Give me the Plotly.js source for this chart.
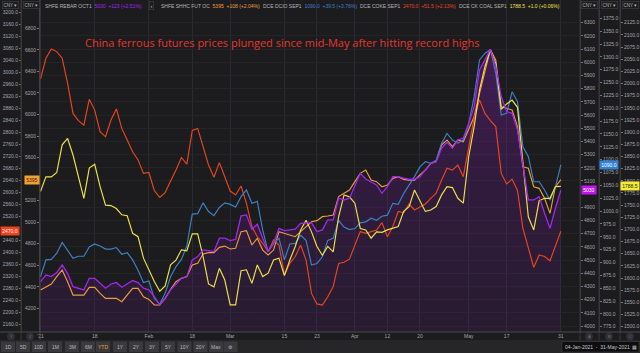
<!DOCTYPE html>
<html><head><meta charset="utf-8">
<script src="https://cdn.plot.ly/plotly-3.0.1.min.js"></script>
<style>html,body{margin:0;padding:0;background:#1c1c1f;}#chart{width:640px;height:353px;}</style>
</head><body><div id="chart"></div>
<script>
const dates = [
 '2021-01-04','2021-01-05','2021-01-06','2021-01-07','2021-01-08','2021-01-11','2021-01-12','2021-01-13','2021-01-14','2021-01-15',
 '2021-01-18','2021-01-19','2021-01-20','2021-01-21','2021-01-22','2021-01-25','2021-01-26','2021-01-27','2021-01-28','2021-01-29',
 '2021-02-01','2021-02-02','2021-02-03','2021-02-04','2021-02-05','2021-02-08','2021-02-09','2021-02-10','2021-02-18','2021-02-19',
 '2021-02-22','2021-02-23','2021-02-24','2021-02-25','2021-02-26','2021-03-01','2021-03-02','2021-03-03','2021-03-04','2021-03-05',
 '2021-03-08','2021-03-09','2021-03-10','2021-03-11','2021-03-12','2021-03-15','2021-03-16','2021-03-17','2021-03-18','2021-03-19',
 '2021-03-22','2021-03-23','2021-03-24','2021-03-25','2021-03-26','2021-03-29','2021-03-30','2021-03-31','2021-04-01','2021-04-02',
 '2021-04-06','2021-04-07','2021-04-08','2021-04-09','2021-04-12','2021-04-13','2021-04-14','2021-04-15','2021-04-16','2021-04-19',
 '2021-04-20','2021-04-21','2021-04-22','2021-04-23','2021-04-26','2021-04-27','2021-04-28','2021-04-29','2021-04-30','2021-05-06',
 '2021-05-07','2021-05-10','2021-05-11','2021-05-12','2021-05-13','2021-05-14','2021-05-17','2021-05-18','2021-05-19','2021-05-20',
 '2021-05-21','2021-05-24','2021-05-25','2021-05-26','2021-05-27','2021-05-28','2021-05-31'];

// SHFE Rebar Oct1 (CNY)
const rebar = [4337,4388,4375,4405,4463,4400,4299,4287,4274,4362,4362,4324,4287,4319,4330,4294,4319,4345,4330,4287,
 4274,4223,4160,4211,4274,4319,4362,4375,4501,4527,4577,4572,4565,4666,4666,4648,4658,4835,4843,4734,
 4772,4666,4565,4628,4741,4724,4729,4734,4779,4779,4784,4716,4729,4805,4805,4969,4956,4969,5057,5158,
 5115,5095,5070,5007,5057,5133,5133,5121,5113,5113,5133,5184,5234,5247,5348,5393,5348,5411,5424,5537,
 5664,5942,6018,6098,5967,5740,5626,5613,5487,5209,4956,4956,4981,4855,4741,4893,5030];
// SHFE hot-rolled coil (CNY)
const shhc = [4370,4401,4426,4494,4556,4447,4323,4323,4323,4395,4395,4339,4293,4293,4293,4262,4323,4385,4385,4308,
 4283,4231,4231,4293,4376,4447,4478,4494,4602,4618,4704,4717,4717,4766,4778,4751,4757,4912,4921,4788,
 4850,4741,4695,4741,4912,4896,4881,4865,4912,4958,5004,5014,5051,5057,5066,5237,5268,5298,5376,5453,
 5484,5391,5376,5329,5345,5407,5422,5397,5391,5391,5438,5484,5546,5562,5716,5763,5701,5763,5747,5856,
 5979,6196,6413,6604,6505,6072,6057,6041,5887,5515,5500,5329,5314,5221,5082,5329,5395];
// DCE iron ore Sep1 (CNY)
const dcio = [872,905,906,918,939,924,908,912,912,930,936,932,926,926,929,916,919,905,885,861,
 864,830,819,840,872,892,906,932,994,995,1016,999,991,1007,1016,1013,1008,1028,1041,1015,
 1019,963,921,937,947,905,936,937,953,943,895,898,911,943,947,982,969,964,966,977,
 979,986,982,990,992,1015,1013,1034,1050,1067,1086,1096,1093,1099,1132,1151,1138,1132,1138,1170,
 1222,1294,1307,1314,1268,1187,1190,1232,1213,1125,1106,1057,1057,1041,1021,1047,1090.0];
// DCE coke Sep1 (CNY)
const coke = [2977,3047,3078,3069,3047,2963,2863,2839,2824,2910,2874,2802,2785,2841,2878,2813,2774,2735,2708,2663,
 2666,2606,2583,2599,2638,2674,2716,2694,2806,2813,2752,2691,2650,2699,2652,2604,2591,2621,2563,2486,
 2452,2430,2402,2441,2424,2324,2363,2386,2424,2374,2263,2228,2224,2252,2286,2363,2367,2377,2424,2469,
 2463,2469,2474,2499,2452,2486,2536,2532,2561,2541,2552,2561,2580,2597,2641,2680,2674,2691,2652,2752,
 2847,2908,2863,2839,2819,2663,2628,2644,2606,2480,2419,2350,2391,2386,2372,2419,2470.0];
// DCE coking coal Sep1 (CNY)
const coal = [1778,1808,1808,1817,1874,1887,1853,1808,1764,1826,1834,1788,1750,1749,1743,1730,1728,1692,1685,1641,
 1617,1593,1573,1584,1627,1637,1658,1656,1691,1691,1644,1588,1582,1620,1596,1545,1545,1615,1617,1589,
 1627,1603,1610,1637,1641,1605,1637,1665,1699,1719,1695,1665,1647,1665,1654,1726,1771,1767,1754,1702,
 1699,1682,1695,1694,1699,1702,1706,1737,1747,1781,1760,1737,1740,1747,1771,1788,1786,1764,1754,1850,
 1911,1987,2035,2069,2041,1947,1958,1966,1951,1836,1726,1699,1759,1764,1764,1788,1788.5];

const legendNames = ['SHFE REBAR OCT1','SHFE SHHC FUT OC','DCE DCIO SEP1','DCE COKE SEP1','DCE CK COAL SEP1'];
const lastText = ['5030','5395','1090.0','2470.0','1788.5'];
const changeText = ['+123 (+2.51%)','+108 (+2.04%)','+39.5 (+3.76%)','+51.5 (+2.13%)','+1.0 (+0.06%)'];
const tickDates = ['2021-01-04','2021-01-18','2021-02-01','2021-02-18','2021-03-01','2021-03-15','2021-03-23','2021-04-01','2021-04-12','2021-04-20','2021-05-06','2021-05-17','2021-05-31'];
const tickText = ["'21",'18','Feb','18','Mar','15','23','Apr','12','20','May','17','31'];
const titleText = 'China ferrous futures prices plunged since mid-May after hitting record highs';

const W=640,H=353;
const px=x=>x/W, py=y=>1-y/H;
const C = {rebar:'#a326ee', shhc:'#ee9c3e', dcio:'#3f80c4', coke:'#ea4520', coal:'#efe349'};
const BG='#1c1c1f', SEP='#38383c', TXT='#a4a4a8';
const FONT='Liberation Sans, Arial, sans-serif';
const tf = {family:FONT, size:5, color:TXT};

const R = {rebar:[3955,6472], shhc:[3980.1,7062.8], coke:[2134.3,3241], dcio:[764.7,1410.6], coal:[1489.1,2171.7]};
const plotH = 332;
function ticks(a,b,s,rg,tag){
  const r=[], k=plotH/(rg[1]-rg[0]);
  for(let v=a;v<=b+1e-9;v+=s){ if(Math.abs(v-tag)*k>4.2) r.push(v); }
  return r;
}

const traces = [
 {x:dates,y:rebar,type:'scatter',mode:'lines',line:{width:0},fill:'tozeroy',
  fillgradient:{type:'vertical',start:3955,stop:6200,colorscale:[[0,'rgba(105,25,140,0.16)'],[0.5,'rgba(110,25,150,0.25)'],[1,'rgba(125,30,165,0.42)']]},
  yaxis:'y',hoverinfo:'skip'},
 {x:dates,y:shhc,type:'scatter',mode:'lines',line:{color:C.shhc,width:1.15},yaxis:'y2',hoverinfo:'skip'},
 {x:dates,y:coke,type:'scatter',mode:'lines',line:{color:C.coke,width:1.15},yaxis:'y3',hoverinfo:'skip'},
 {x:dates,y:dcio,type:'scatter',mode:'lines',line:{color:C.dcio,width:1.15},yaxis:'y4',hoverinfo:'skip'},
 {x:dates,y:coal,type:'scatter',mode:'lines',line:{color:C.coal,width:1.15},yaxis:'y5',hoverinfo:'skip'},
 {x:dates,y:rebar,type:'scatter',mode:'lines',line:{color:C.rebar,width:1.3},yaxis:'y6',hoverinfo:'skip'}
];

const ydom=[21/H,1];
const baseY = {domain:ydom, showgrid:false, zeroline:false, ticks:'outside', ticklen:2, tickcolor:'#77777b', tickfont:tf, showline:true, linecolor:SEP, tickmode:'array', fixedrange:true};

const layout = {
 width:W,height:H,margin:{l:0,r:0,t:0,b:0},paper_bgcolor:BG,plot_bgcolor:BG,showlegend:false,
 xaxis:{domain:[40/W,579/W],type:'category',range:[-0.09,99.35],tickmode:'array',tickvals:tickDates,ticktext:tickText,
   showgrid:true,gridcolor:'#2b2b2f',gridwidth:1,ticks:'',tickfont:tf,showline:false,zeroline:false,anchor:'y',fixedrange:true},
 yaxis:Object.assign({},baseY,{range:R.rebar,tickvals:ticks(4000,6300,100,R.rebar,5030),tickformat:'d',side:'right',anchor:'free',position:580/W,
   showgrid:true,gridcolor:'#242427',gridwidth:1}),
 yaxis2:Object.assign({},baseY,{range:R.shhc,tickvals:ticks(4200,6800,200,R.shhc,5395),tickformat:'d',side:'left',anchor:'x',overlaying:'y'}),
 yaxis3:Object.assign({},baseY,{range:R.coke,tickvals:ticks(2160,3200,40,R.coke,2470),tickformat:'.1f',side:'left',anchor:'free',position:21/W,overlaying:'y'}),
 yaxis4:Object.assign({},baseY,{range:R.dcio,tickvals:ticks(775,1375,25,R.dcio,1090),tickformat:'.1f',side:'right',anchor:'free',position:599/W,overlaying:'y'}),
 yaxis5:Object.assign({},baseY,{range:R.coal,tickvals:ticks(1500,2125,25,R.coal,1788.5),tickformat:'.1f',side:'right',anchor:'free',position:620/W,overlaying:'y'}),
 yaxis6:{domain:ydom,range:R.rebar,overlaying:'y',anchor:'x',visible:false,fixedrange:true},
 shapes:[], annotations:[]
};

const S=layout.shapes, A=layout.annotations;
[21,580,599,620].forEach(x=>S.push({type:'line',xref:'paper',yref:'paper',x0:px(x),x1:px(x),y0:py(0),y1:py(340),line:{color:SEP,width:1}}));
S.push({type:'line',xref:'paper',yref:'paper',x0:px(40),x1:px(40),y0:py(0),y1:py(340),line:{color:'#4a4a4e',width:1}});
S.push({type:'line',xref:'paper',yref:'paper',x0:0,x1:1,y0:py(332),y1:py(332),line:{color:'#4a4a4e',width:1}});
S.push({type:'rect',xref:'paper',yref:'paper',x0:0,x1:1,y0:0,y1:py(340),fillcolor:'#262629',line:{width:0}});
const btns=['1D','5D','10D','1M','3M','6M','YTD','1Y','2Y','3Y','5Y','10Y','20Y','Max','⚙'];
const bx=[8,23,39,55,72,88,103,120,136,152,168,184.5,200.5,216,230.5];
btns.forEach((b,i)=>{
 S.push({type:'rect',xref:'paper',yref:'paper',x0:px(bx[i]-7),x1:px(bx[i]+7),y0:py(352),y1:py(341.5),fillcolor:'#3a3a3e',line:{width:0}});
 A.push({xref:'paper',yref:'paper',x:px(bx[i]),y:py(346.8),text:b,showarrow:false,xanchor:'center',yanchor:'middle',
   font:{family:FONT,size:5,color:b==='YTD'?'#e8a030':'#b8b8bc'}});
});
S.push({type:'rect',xref:'paper',yref:'paper',x0:px(562),x1:px(639),y0:py(352),y1:py(341.5),fillcolor:'#0e0e10',line:{color:'#4a4a4e',width:0.5}});
A.push({xref:'paper',yref:'paper',x:px(597),y:py(346.8),text:'04-Jan-2021  -  31-May-2021',showarrow:false,xanchor:'center',yanchor:'middle',font:{family:FONT,size:5,color:'#c8c8cc'}});
A.push({xref:'paper',yref:'paper',x:px(634.5),y:py(346.8),text:'▦',showarrow:false,xanchor:'center',yanchor:'middle',font:{family:'DejaVu Sans',size:5,color:'#c8c8cc'}});
[['Y',11],['Z',30],['A',589],['B',609],['C',630]].forEach(([t,x])=>{
 S.push({type:'circle',xref:'paper',yref:'paper',x0:px(x-3.5),x1:px(x+3.5),y0:py(340),y1:py(333),fillcolor:'#2e2e34',line:{color:'#3e3e46',width:0.5}});
 A.push({xref:'paper',yref:'paper',x:px(x),y:py(336.6),text:t,showarrow:false,xanchor:'center',yanchor:'middle',font:{family:FONT,size:4,color:'#7a7a90'}});
});
[10,31,589.5,609,630].forEach(x=>{
 A.push({xref:'paper',yref:'paper',x:px(x),y:py(5.5),text:'CNY ▾',showarrow:false,xanchor:'center',yanchor:'middle',
  font:{family:FONT,size:4.5,color:'#b0b0b4'},bgcolor:'#1c1c1f',bordercolor:'#48484c',borderwidth:0.5,borderpad:1});
});
A.push({xref:'paper',yref:'paper',x:px(281.5),y:py(42),text:titleText,showarrow:false,xanchor:'center',yanchor:'middle',
 font:{family:'Open Sans, sans-serif',size:11,color:'#e6372c'}});
// top legend: one text per series (name, last price, change)
const legColors=[C.rebar,C.shhc,C.dcio,C.coke,C.coal];
const nameX=[43,159,261,358,457];
legendNames.forEach((n,i)=>{
 A.push({xref:'paper',yref:'paper',x:px(nameX[i]),y:py(6),xanchor:'left',yanchor:'middle',showarrow:false,
  text:'<span style="color:#b4b4b8">'+n+'</span>&nbsp; <span style="color:'+legColors[i]+'">'+lastText[i]+'&nbsp; '+changeText[i]+'</span>',
  font:{family:FONT,size:5,color:'#b4b4b8'}});
});
A.push({xref:'paper',yref:'paper',x:px(151.5),y:py(6),text:'‹',showarrow:false,xanchor:'center',yanchor:'middle',
 font:{family:FONT,size:6,color:'#c0c0c4'},bgcolor:'#1c1c1f',bordercolor:'#48484c',borderwidth:0.5,borderpad:1});
const tags=[
 {ax:'y3',v:coke[coke.length-1],x:10,t:lastText[3],bg:'#f0401c',fc:'#ffffff'},
 {ax:'y2',v:shhc[shhc.length-1],x:31.5,t:lastText[1],bg:'#f2a033',fc:'#3a2000'},
 {ax:'y',v:rebar[rebar.length-1],x:589,t:lastText[0],bg:'#c214f2',fc:'#ffffff'},
 {ax:'y4',v:dcio[dcio.length-1],x:609,t:lastText[2],bg:'#2f82d6',fc:'#ffffff'},
 {ax:'y5',v:coal[coal.length-1],x:630,t:lastText[4],bg:'#f6ec3a',fc:'#2a2600'}
];
tags.forEach(g=>A.push({xref:'paper',yref:g.ax,x:px(g.x),y:g.v,text:g.t,showarrow:false,xanchor:'center',yanchor:'middle',
 bgcolor:g.bg,borderpad:1.2,font:{family:FONT,size:5,color:g.fc}}));

Plotly.newPlot('chart',traces,layout,{displayModeBar:false,staticPlot:true});
</script></body></html>
